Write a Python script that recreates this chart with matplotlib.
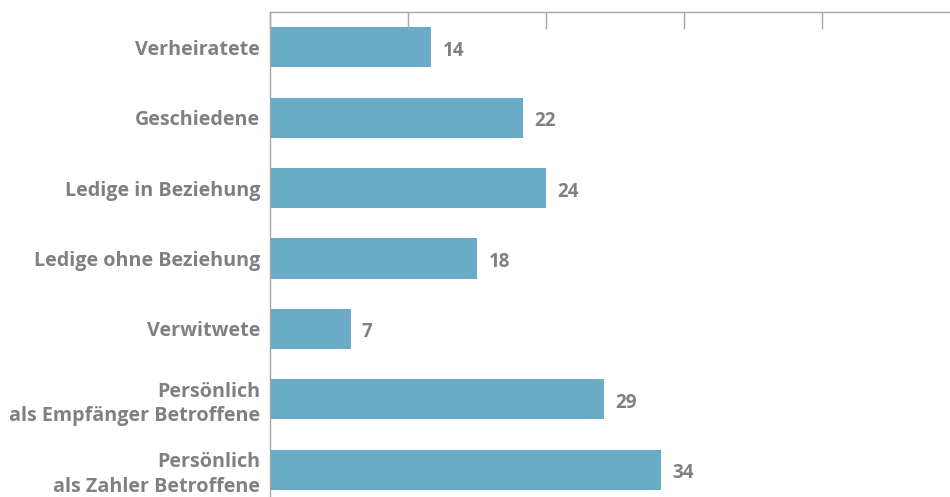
import matplotlib.pyplot as plt

# Data
categories = [
    "Verheiratete",
    "Geschiedene",
    "Ledige in Beziehung",
    "Ledige ohne Beziehung",
    "Verwitwete",
    "Persönlich\nals Empfänger Betroffene",
    "Persönlich\nals Zahler Betroffene",
]
values = [14, 22, 24, 18, 7, 29, 34]
ticks = [0, 12, 24, 36, 48, 60]

bar_color = "#6aabc7"
text_color = "#808080"
axis_color = "#a6a6a6"

plt.rcParams["font.family"] = ["Open Sans", "DejaVu Sans"]

fig = plt.figure(figsize=(9.5, 4.97), dpi=100)
ax = fig.add_axes([270 / 950, 1 - 505 / 497, 690 / 950, 493 / 497])

y = range(len(categories))
ax.barh(y, values, height=0.57, color=bar_color)
ax.set_ylim(len(categories) - 0.5, -0.5)
ax.set_xlim(0, 60)

# value labels, sitting a bit below the bar centre like the original
for i, v in enumerate(values):
    ax.text(v + 1, i + 0.05, str(v), va="center", ha="left", fontsize=13.5,
            fontweight="bold", color=text_color)

ax.set_yticks(list(y))
ax.set_yticklabels(categories, fontsize=14.2, fontweight="bold", color=text_color,
                   linespacing=1.3)
ax.tick_params(axis="y", length=0, pad=7)

ax.xaxis.tick_top()
ax.set_xticks(ticks)
ax.set_xticklabels([])
ax.tick_params(axis="x", direction="in", length=12, color=axis_color, width=1)

for s in ["right", "bottom"]:
    ax.spines[s].set_visible(False)
for s in ["top", "left"]:
    ax.spines[s].set_color(axis_color)
    ax.spines[s].set_linewidth(1)

fig.savefig("out.png", dpi=100)
